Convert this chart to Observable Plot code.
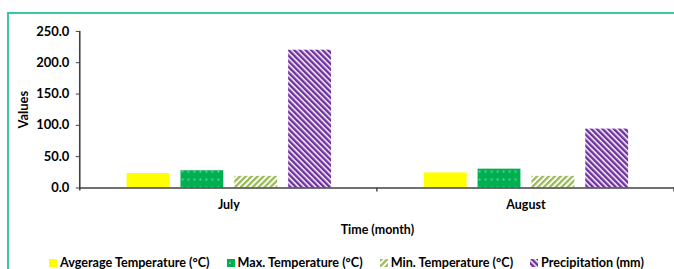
<!DOCTYPE html>
<html><head><meta charset="utf-8">
<script src="https://cdn.jsdelivr.net/npm/d3@7"></script>
<script src="https://cdn.jsdelivr.net/npm/@observablehq/plot@0.6"></script>
<style>
body{margin:0;background:#fff;}
#wrap{position:relative;width:674px;height:269px;overflow:hidden;font-family:Lato,"Open Sans",sans-serif;background:#fff;}
#frame{position:absolute;left:7px;top:12px;width:720px;height:320px;border-left:2px solid #3cc5ab;border-top:2px solid #3cc5ab;}
#chart{position:absolute;left:0;top:0;}
#chart svg text{font-weight:bold;fill:#000;}
#legend{position:absolute;left:49px;top:255px;display:flex;gap:17px;font-weight:bold;font-size:12.6px;color:#000;white-space:nowrap;}
#legend .it{display:flex;align-items:center;gap:3px;}
#legend svg{display:block;}
</style></head>
<body>
<svg width="0" height="0" style="position:absolute">
 <defs>
  <pattern id="pAvg" patternUnits="userSpaceOnUse" width="4" height="4"><rect width="4" height="4" fill="#FFFF00"/></pattern>
  <pattern id="pMax" patternUnits="userSpaceOnUse" width="6" height="8"><rect width="6" height="8" fill="#00B050"/><rect x="2.4" y="3.4" width="1.3" height="1.3" fill="#fff" opacity="0.85"/></pattern>
  <pattern id="pMin" patternUnits="userSpaceOnUse" width="4.2" height="4.2" patternTransform="rotate(45)"><rect width="4.2" height="4.2" fill="#fff"/><rect width="2.3" height="4.2" fill="#9BBB59"/></pattern>
  <pattern id="pPre" patternUnits="userSpaceOnUse" width="4" height="4" patternTransform="rotate(-45)"><rect width="4" height="4" fill="#fff"/><rect width="2.5" height="4" fill="#7030A0"/></pattern>
 </defs>
</svg>
<div id="wrap">
 <div id="frame"></div>
 <div id="chart"></div>
 <div id="legend"></div>
</div>
<script>
const months = ["July", "August"];
const series = ["Avgerage Temperature (°C)", "Max. Temperature (°C)", "Min. Temperature (°C)", "Precipitation (mm)"];
const avgTemp = [23.0, 24.0];
const maxTemp = [27.5, 30.0];
const minTemp = [18.5, 18.5];
const precip = [220.0, 94.0];
const yTicks = [0, 50, 100, 150, 200, 250];
const fills = ["url(#pAvg)", "url(#pMax)", "url(#pMin)", "url(#pPre)"];

const valuesBySeries = [avgTemp, maxTemp, minTemp, precip];
const rows = [];
months.forEach((m, i) => series.forEach((s, j) => rows.push({month: m, series: s, value: valuesBySeries[j][i]})));

const plot = Plot.plot({
  width: 676,
  height: 269,
  marginTop: 31,
  marginBottom: 81,
  marginLeft: 80,
  marginRight: 0,
  style: {fontFamily: "Lato, 'Open Sans', sans-serif", background: "transparent", overflow: "visible"},
  fx: {domain: months, padding: 0},
  x: {domain: series, paddingInner: 0.204, paddingOuter: 0.86, axis: null},
  y: {domain: [0, 250]},
  color: {domain: series, range: fills},
  marks: [
    Plot.barY(rows, {fx: "month", x: "series", y: "value", fill: "series"}),
    Plot.ruleY([0], {stroke: "#404040", strokeWidth: 1.6}),
    Plot.axisY({ticks: yTicks, tickFormat: d3.format(".1f"), tickSize: 4, tickPadding: 7,
      fontSize: 13, fontWeight: "bold", stroke: "#404040", label: "Values", labelAnchor: "center", labelArrow: "none", labelOffset: 62}),
    Plot.axisFx({anchor: "bottom", tickSize: 0, tickPadding: 12, fontSize: 12.5, fontWeight: "bold",
      label: "Time (month)", labelAnchor: "center", labelArrow: "none", labelOffset: 46})
  ]
});
document.getElementById("chart").appendChild(plot);

// Excel-like axis line and category boundary ticks, from the plot's scales
const y = plot.scale("y"), fx = plot.scale("fx");
const svg = d3.select(plot);
const y0 = y.apply(0), yTop = y.apply(250);
const xLeft = fx.apply(months[0]);
svg.append("line").attr("x1", xLeft).attr("x2", xLeft).attr("y1", yTop).attr("y2", y0 + 3)
  .attr("stroke", "#404040").attr("stroke-width", 1.6);
const bounds = months.map(m => fx.apply(m)).concat([fx.apply(months[months.length - 1]) + fx.bandwidth]);
bounds.slice(1).forEach(b => svg.append("line").attr("x1", b).attr("x2", b).attr("y1", y0).attr("y2", y0 + 4)
  .attr("stroke", "#404040").attr("stroke-width", 1.4));

// legend
const leg = d3.select("#legend");
series.forEach((s, i) => {
  const it = leg.append("div").attr("class", "it");
  it.append("svg").attr("width", 8).attr("height", 8).append("rect").attr("width", 8).attr("height", 8).attr("fill", fills[i]);
  it.append("span").text(s);
});
</script>
</body></html>
